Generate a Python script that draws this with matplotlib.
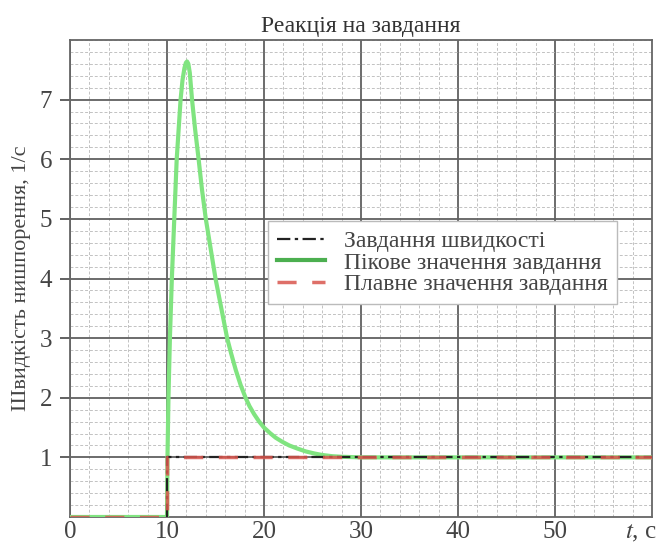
import matplotlib
matplotlib.use("Agg")
import matplotlib.pyplot as plt
from matplotlib.ticker import MultipleLocator

# Data
set_t = [10, 10, 60]
set_v = [0, 1, 1]

peak_t = [0, 10, 10.05, 10.15, 10.3, 10.5, 10.75, 11.0, 11.2, 11.4, 11.6, 11.8,
          11.95, 12.07, 12.2, 12.35, 12.58, 12.9, 13.26, 13.6, 14.0, 14.5, 15.0,
          15.6, 16.2, 16.6, 17.1, 17.6, 18.1, 18.5, 19.0, 19.5, 20.0, 20.6, 21.2,
          21.9, 22.6, 23.4, 24.3, 25.2, 26.0, 27.0, 28.0, 30, 60]
peak_v = [0, 0, 1.0, 2.0, 3.0, 4.0, 5.0, 6.0, 6.5, 7.0, 7.33, 7.53,
          7.62, 7.64, 7.6, 7.45, 7.0, 6.5, 6.0, 5.5, 5.0, 4.5, 4.0,
          3.5, 3.0, 2.75, 2.46, 2.21, 2.0, 1.86, 1.72, 1.6, 1.5, 1.41, 1.33,
          1.26, 1.2, 1.15, 1.1, 1.065, 1.04, 1.02, 1.01, 1.0, 1.0]

smooth_t = [0, 10, 10, 60]
smooth_v = [0, 0, 1, 1]

x_ticks = [0, 10, 20, 30, 40, 50]
y_ticks = [1, 2, 3, 4, 5, 6, 7]

title = "Реакція на завдання"
ylabel = "Швидкість нишпорення, 1/с"
labels = ["Завдання швидкості", "Пікове значення завдання", "Плавне значення завдання"]

plt.rcParams['font.family'] = ['Liberation Serif', 'DejaVu Serif']
plt.rcParams['mathtext.fontset'] = 'stix'

fig = plt.figure(figsize=(6.57, 5.42), dpi=100)
ax = fig.add_axes([70/657, 1 - 517/542, 582/657, 477/542])

l2, = ax.plot(peak_t, peak_v, color='#80e480', lw=3, zorder=3,
              solid_joinstyle='round')
l1, = ax.plot(set_t, set_v, color='#222222', lw=1.6, ls=(0, (6, 2, 1.5, 2)), zorder=4)
l3, = ax.plot(smooth_t, smooth_v, color='#d9564e', lw=2.5, ls=(0, (5.5, 4.5)), zorder=5,
              alpha=0.85)

ax.set_xlim(0, 60)
ax.set_ylim(0, 8)
ax.set_xticks(x_ticks)
ax.set_yticks(y_ticks)
ax.xaxis.set_minor_locator(MultipleLocator(2))
ax.yaxis.set_minor_locator(MultipleLocator(0.2))
ax.grid(which='major', color='#606060', lw=1.3, ls='-')
ax.grid(which='minor', color='#c2c2c2', lw=0.7, ls=(0, (3, 2)))
ax.set_axisbelow(True)
ax.tick_params(which='major', axis='y', length=7, color='#555555', labelsize=18,
               width=1.3, labelcolor='#444444', pad=6)
ax.tick_params(which='major', axis='x', length=0, labelsize=18, labelcolor='#444444', pad=3)
ax.tick_params(which='minor', length=0)
for s in ax.spines.values():
    s.set_color('#666666')
    s.set_linewidth(1.3)

ax.set_title(title, fontsize=17, color='#333333', pad=6)
ax.set_ylabel(ylabel, fontsize=16, color='#444444', labelpad=6)
fig.text(657/657, 1 - 538/542, "$t$, с", ha='right', va='baseline', fontsize=18,
         color='#444444')

leg = ax.legend([l1, l2, l3], labels, loc='center', bbox_to_anchor=(0.64, 0.533),
                fontsize=17, frameon=True, fancybox=False, handlelength=2.0,
                borderpad=0.4, labelspacing=0.0, handletextpad=0.8,
                edgecolor='#bbbbbb', framealpha=1)
for t in leg.get_texts():
    t.set_color('#444444')
leg.get_lines()[1].set_color('#4caf50')

fig.savefig("out.png", dpi=100)
